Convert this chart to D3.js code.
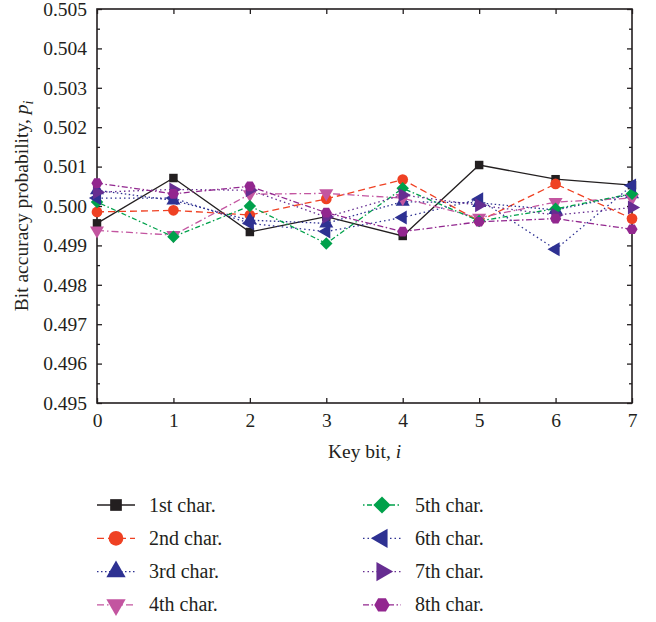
<!DOCTYPE html>
<html>
<head>
<meta charset="utf-8">
<script src="https://cdn.jsdelivr.net/npm/d3@7"></script>
<style>
  body { margin: 0; background: #fff; }
  svg text { font-family: "Liberation Serif", "DejaVu Serif", serif; fill: #231f20; }
</style>
</head>
<body>
<svg id="chart" width="656" height="622"></svg>
<script>
// Key bits on the x axis
var keyBits = [0, 1, 2, 3, 4, 5, 6, 7];

// Bit accuracy probability per character
var char1 = [0.49956, 0.50071, 0.49934, 0.49973, 0.49924, 0.50104, 0.50068, 0.50053];
var char2 = [0.49985, 0.49989, 0.49977, 0.50018, 0.50067, 0.49962, 0.50056, 0.49968];
var char3 = [0.50040, 0.50014, 0.49964, 0.49956, 0.50011, 0.50008, 0.49990, 0.50030];
var char4 = [0.49938, 0.49926, 0.50030, 0.50032, 0.50020, 0.49970, 0.50010, 0.50020];
var char5 = [0.50010, 0.49922, 0.50000, 0.49905, 0.50045, 0.49962, 0.49993, 0.50031];
var char6 = [0.50020, 0.50020, 0.49956, 0.49935, 0.49971, 0.50017, 0.49890, 0.50052];
var char7 = [0.50035, 0.50042, 0.50040, 0.49972, 0.50028, 0.50002, 0.49977, 0.49996];
var char8 = [0.50058, 0.50031, 0.50050, 0.49983, 0.49935, 0.49960, 0.49968, 0.49941];

var seriesNames = ["1st char.", "2nd char.", "3rd char.", "4th char.",
                   "5th char.", "6th char.", "7th char.", "8th char."];
var yTicks = [0.495, 0.496, 0.497, 0.498, 0.499, 0.500, 0.501, 0.502, 0.503, 0.504, 0.505];

// Style per series: colour, dash pattern, marker
var styles = [
  {color: "#231f20", dash: null,          shape: "square"},
  {color: "#ef4123", dash: "7,4",         shape: "circle"},
  {color: "#2e3192", dash: "1.5,2.5",     shape: "up"},
  {color: "#c355a0", dash: "7,3,1.5,3",   shape: "down"},
  {color: "#00a14b", dash: "1.5,2.5,5,2.5", shape: "diamond"},
  {color: "#2e3192", dash: "1.5,3",       shape: "left"},
  {color: "#662d91", dash: "1.5,3",       shape: "right"},
  {color: "#92278f", dash: "6,2.5,1.5,2.5", shape: "hexagon"}
];

var allSeries = [char1, char2, char3, char4, char5, char6, char7, char8];

var margin = {top: 9, right: 24, bottom: 219, left: 97};
var width = 656 - margin.left - margin.right;
var height = 622 - margin.top - margin.bottom;

var svg = d3.select("#chart");
var g = svg.append("g")
  .attr("transform", "translate(" + margin.left + "," + margin.top + ")");

var x = d3.scaleLinear().domain([0, 7]).range([0, width]);
var y = d3.scaleLinear().domain([0.495, 0.505]).range([height, 0]);

// Marker path generator, k scales the marker
function markerPath(shape, k) {
  if (shape === "square") return d3.symbol(d3.symbolSquare, 72 * k)();
  if (shape === "circle") return d3.symbol(d3.symbolCircle, 90 * k)();
  if (shape === "diamond") return d3.symbol(d3.symbolSquare, 78 * k)();
  if (shape === "hexagon") {
    var r = 5.6 * Math.sqrt(k), pts = [];
    for (var j = 0; j < 6; j++) {
      var a = Math.PI / 3 * j;
      pts.push([r * Math.cos(a), r * Math.sin(a)]);
    }
    return "M" + pts.join("L") + "Z";
  }
  return d3.symbol(d3.symbolTriangle, 85 * k)();
}
function markerRotate(shape) {
  if (shape === "down") return 180;
  if (shape === "left") return -90;
  if (shape === "right") return 90;
  if (shape === "diamond") return 45;
  return 0;
}

// Axes (ticks inward)
var axisColor = "#231f20";
g.append("g")
  .attr("transform", "translate(0," + height + ")")
  .call(d3.axisBottom(x).tickValues(keyBits).tickSize(-5).tickPadding(10).tickFormat(d3.format("d")))
  .call(function(a) { a.select(".domain").remove(); a.selectAll("text").attr("font-size", 19.5); });

g.append("g")
  .call(d3.axisTop(x).tickValues(keyBits).tickSize(-5).tickFormat(""))
  .call(function(a) { a.select(".domain").remove(); });

g.append("g")
  .call(d3.axisLeft(y).tickValues(yTicks).tickSize(-5).tickPadding(10).tickFormat(d3.format(".3f")))
  .call(function(a) { a.select(".domain").remove(); a.selectAll("text").attr("font-size", 19.5); });

var minorTicks = d3.range(0, 10).map(function(i) { return 0.4955 + i * 0.001; });
g.append("g")
  .call(d3.axisLeft(y).tickValues(minorTicks).tickSize(-3).tickFormat(""))
  .call(function(a) { a.select(".domain").remove(); });

g.append("g")
  .attr("transform", "translate(" + width + ",0)")
  .call(d3.axisRight(y).tickValues(yTicks).tickSize(-5).tickFormat(""))
  .call(function(a) { a.select(".domain").remove(); });
g.append("g")
  .attr("transform", "translate(" + width + ",0)")
  .call(d3.axisRight(y).tickValues(minorTicks).tickSize(-3).tickFormat(""))
  .call(function(a) { a.select(".domain").remove(); });

g.selectAll(".tick line").attr("stroke", axisColor).attr("stroke-width", 1.3);

g.append("rect")
  .attr("width", width).attr("height", height)
  .attr("fill", "none").attr("stroke", axisColor).attr("stroke-width", 1.6);

// Lines
var line = d3.line()
  .x(function(d, i) { return x(keyBits[i]); })
  .y(function(d) { return y(d); });

allSeries.forEach(function(data, s) {
  var st = styles[s];
  g.append("path")
    .datum(data)
    .attr("fill", "none")
    .attr("stroke", st.color)
    .attr("stroke-width", 1.3)
    .attr("stroke-dasharray", st.dash)
    .attr("d", line);
});

// Markers
allSeries.forEach(function(data, s) {
  var st = styles[s];
  g.selectAll(".m" + s)
    .data(data)
    .enter().append("path")
    .attr("class", "m" + s)
    .attr("d", markerPath(st.shape, 1))
    .attr("fill", st.color)
    .attr("transform", function(d, i) {
      return "translate(" + x(keyBits[i]) + "," + y(d) + ") rotate(" + markerRotate(st.shape) + ")";
    });
});

// Axis titles
svg.append("text")
  .attr("x", margin.left + width / 2)
  .attr("y", 458)
  .attr("text-anchor", "middle")
  .attr("font-size", 19.5)
  .html('Key bit, <tspan font-style="italic">i</tspan>');

svg.append("text")
  .attr("transform", "translate(28," + (margin.top + height / 2) + ") rotate(-90)")
  .attr("text-anchor", "middle")
  .attr("font-size", 19.5)
  .html('Bit accuracy probability, <tspan font-style="italic">p</tspan><tspan font-style="italic" font-size="14" dy="5">i</tspan>');

// Legend
var legend = svg.append("g");
seriesNames.forEach(function(name, s) {
  var st = styles[s];
  var col = Math.floor(s / 4), row = s % 4;
  var lx = col === 0 ? 97 : 363;
  var ly = 505 + row * 33.3;
  legend.append("line")
    .attr("x1", lx).attr("x2", lx + 38)
    .attr("y1", ly).attr("y2", ly)
    .attr("stroke", st.color)
    .attr("stroke-width", 1.3)
    .attr("stroke-dasharray", st.dash);
  legend.append("path")
    .attr("d", markerPath(st.shape, 1.9))
    .attr("fill", st.color)
    .attr("transform", "translate(" + (lx + 19) + "," + ly + ") rotate(" + markerRotate(st.shape) + ")");
  legend.append("text")
    .attr("x", lx + 52)
    .attr("y", ly + 6.5)
    .attr("font-size", 20)
    .text(name);
});
</script>
</body>
</html>
